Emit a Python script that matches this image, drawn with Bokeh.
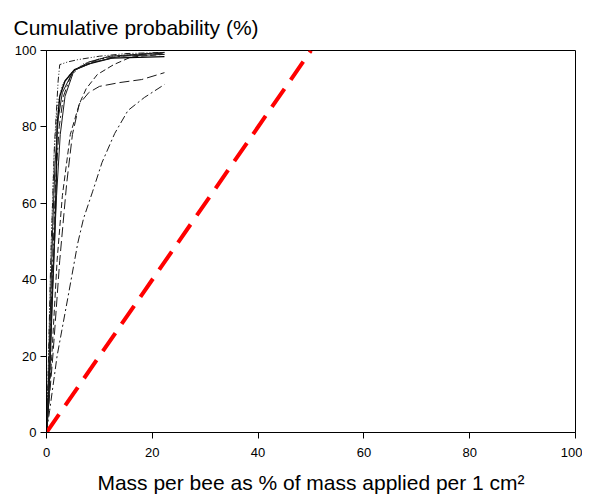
from bokeh.plotting import figure
from bokeh.models import Range1d, FixedTicker, Title
from bokeh.embed import file_html
from bokeh.resources import INLINE

# ---- data ----
ticks = [0, 20, 40, 60, 80, 100]

s1_x = [0, 0.4, 1.0, 1.5, 1.8, 2.0, 2.5, 3.5, 5.3, 8.0, 12.3, 22.3]
s1_y = [0, 8, 32, 50, 63, 80, 88, 92, 95, 96.5, 98, 98.4]

s2_x = [0, 0.3, 0.8, 1.2, 1.6, 2.2, 3.0, 5.0, 8.0, 12.0, 22.3]
s2_y = [0, 10, 35, 55, 70, 82, 89, 94.5, 97, 98.5, 99.5]

s3_x = [0, 0.5, 1.2, 1.9, 2.6, 3.5, 5.2, 9.0, 14.0, 22.3]
s3_y = [0, 12, 40, 62, 78, 88, 94.8, 97, 98.5, 99]

ddd_x = [0, 0.3, 0.8, 1.5, 2.2, 2.5, 4.0, 5.9, 10.0, 15.0, 22.3]
ddd_y = [0, 15, 45, 75, 92, 96.3, 97, 97.6, 98.5, 99.2, 99.5]

md_x = [0, 1.0, 2.0, 3.0, 4.5, 6.2, 7.5, 9.6, 12.7, 16.0, 22.3]
md_y = [0, 20, 45, 62, 78, 86, 90, 93.7, 96.3, 98.3, 99]

ld_x = [0, 1.2, 2.5, 3.8, 4.9, 6.2, 8.0, 10.0, 13.8, 18.0, 22.3]
ld_y = [0, 20, 45, 65, 78, 86, 89, 90.6, 91.6, 92.4, 94.2]

dda_x = [0, 0.6, 2.0, 4.0, 5.9, 7.0, 8.7, 10.5, 12.9, 15.4, 18.5, 22.3]
dda_y = [0, 5.8, 20, 35, 49.5, 56, 63, 70.7, 78.3, 84.3, 87.7, 91.1]

dot_x = [0, 0.4, 0.9, 1.4, 2.0, 3.0, 4.5, 7.0, 12.0, 22.3]
dot_y = [0, 20, 50, 72, 85, 91, 94, 96.5, 98.5, 99.5]

dd2_x = [0, 0.5, 1.1, 1.7, 2.4, 3.2, 4.5, 6.0, 10.0, 16.0, 22.3]
dd2_y = [0, 15, 42, 65, 80, 88, 93, 95.5, 97.8, 98.8, 99.3]

ref_x = [0, 50]
ref_y = [0, 100]

FONT = "Liberation Sans"

p = figure(width=582, height=498, output_backend="svg", toolbar_location=None,
           x_range=Range1d(0, 100), y_range=Range1d(0, 100),
           min_border_left=46, min_border_right=7, min_border_top=50, min_border_bottom=66)
p.xgrid.visible = False
p.ygrid.visible = False
p.outline_line_color = "black"
p.outline_line_width = 1
p.background_fill_color = "white"
p.border_fill_color = "white"

for ax in (p.xaxis[0], p.yaxis[0]):
    ax.ticker = FixedTicker(ticks=ticks)
    ax.minor_tick_line_color = None
    ax.major_tick_in = 0
    ax.major_tick_out = 6
    ax.axis_line_color = "black"
    ax.major_tick_line_color = "black"
    ax.major_label_text_font = FONT
    ax.major_label_text_font_size = "13px"
    ax.major_label_text_color = "black"

p.xaxis[0].major_label_standoff = 9
p.yaxis[0].major_label_standoff = 4
p.xaxis[0].axis_label = "Mass per bee as % of mass applied per 1 cm\u00b2"
p.xaxis[0].axis_label_text_font = FONT
p.xaxis[0].axis_label_text_font_size = "21px"
p.xaxis[0].axis_label_text_font_style = "normal"
p.xaxis[0].axis_label_text_color = "black"
p.xaxis[0].axis_label_standoff = 11

lc = "#1a1a1a"
p.line(s1_x, s1_y, line_color="black", line_width=1.4)
p.line(s2_x, s2_y, line_color=lc, line_width=1)
p.line(s3_x, s3_y, line_color=lc, line_width=1)
p.line(ddd_x, ddd_y, line_color=lc, line_width=1, line_dash="6 2 1 2 1 2")
p.line(md_x, md_y, line_color=lc, line_width=1, line_dash="6 3")
p.line(ld_x, ld_y, line_color=lc, line_width=1, line_dash="10 4")
p.line(dda_x, dda_y, line_color=lc, line_width=1, line_dash="8 3 2 3")
p.line(dot_x, dot_y, line_color=lc, line_width=1, line_dash="1 2")
p.line(dd2_x, dd2_y, line_color=lc, line_width=1, line_dash="8 3 2 3")

p.line(ref_x, ref_y, line_color="#ff0000", line_width=4, line_dash="22 11")

p.add_layout(Title(text="Cumulative probability (%)", align="left", offset=-33,
                   text_font=FONT, text_font_size="21px", text_font_style="normal",
                   text_color="black", standoff=24), "above")

open("out.html", "w").write(file_html(p, INLINE))
